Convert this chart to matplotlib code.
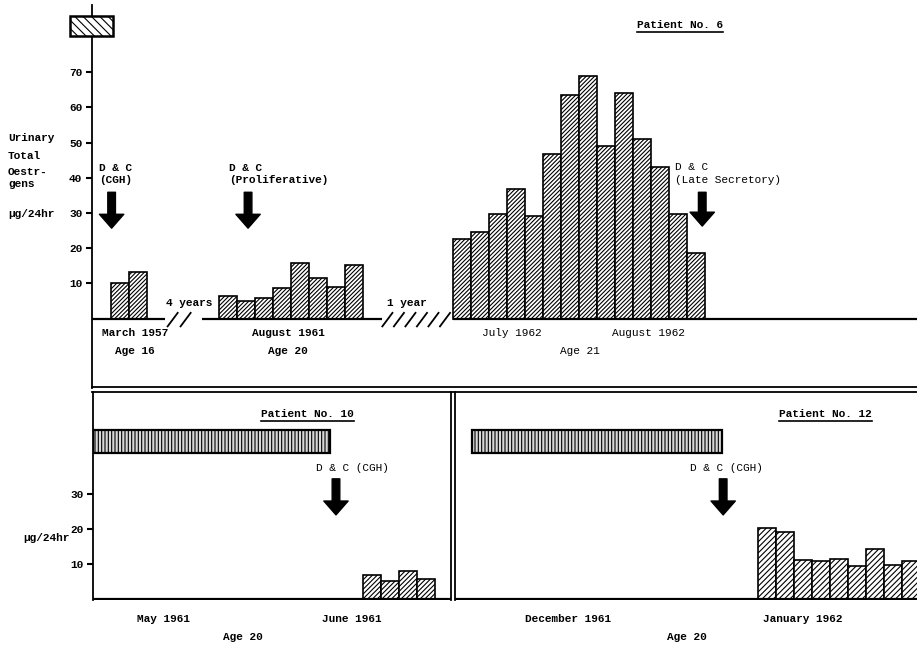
import matplotlib
matplotlib.use("Agg")
import matplotlib.pyplot as plt
from matplotlib.patches import Rectangle
from matplotlib.lines import Line2D

# ---------------- data ----------------
march_1957 = [10.1, 13.2]
aug_1961 = [6.3, 5.1, 5.8, 8.6, 15.9, 11.6, 8.9, 15.2]
jul_aug_1962 = [22.5, 24.6, 29.7, 36.7, 29.2, 46.9, 63.6, 68.9, 49.1, 64.2, 51.1, 43.1, 29.8, 18.7]
p10_jun_1961 = [6.9, 5.0, 8.1, 5.8]
p12_jan_1962 = [20.2, 19.2, 11.2, 10.8, 11.4, 9.3, 14.3, 9.8, 10.8]

top_yticks = [10, 20, 30, 40, 50, 60, 70]
bottom_yticks = [10, 20, 30]

# ---------------- style ----------------
W, H = 917, 646
plt.rcParams['font.family'] = ['Liberation Mono', 'DejaVu Sans Mono']
plt.rcParams['font.weight'] = 'bold'
plt.rcParams['font.size'] = 8
plt.rcParams['hatch.color'] = 'black'
plt.rcParams['hatch.linewidth'] = 0.8

fig = plt.figure(figsize=(W / 100, H / 100), dpi=100)
fig.patch.set_facecolor('white')


def rect(x0, y0, x1, y1):
    return [x0 / W, 1 - y1 / H, (x1 - x0) / W, (y1 - y0) / H]


def fx(x):
    return x / W


def fy(y):
    return 1 - y / H


def style_axis(ax, yticks):
    for s in ['top', 'right', 'bottom']:
        ax.spines[s].set_visible(False)
    ax.spines['left'].set_linewidth(1.3)
    ax.set_xticks([])
    ax.set_yticks(yticks)
    ax.tick_params(axis='y', direction='out', length=4, width=1.5, pad=3, labelsize=8)
    for lab in ax.get_yticklabels():
        lab.set_fontweight('bold')
    ax.patch.set_alpha(0)


def arrow(ax, x, tip, tail):
    ax.annotate('', xy=(x, tip), xytext=(x, tail),
                arrowprops=dict(arrowstyle='simple,head_length=1.0,head_width=1.75,tail_width=0.55',
                                mutation_scale=10, fc='black', ec='black',
                                shrinkA=0, shrinkB=0), annotation_clip=False)


def bars(ax, start, values, hatch):
    xs = [start + i for i in range(len(values))]
    ax.bar(xs, values, width=1.0, align='edge', facecolor='white',
           edgecolor='black', linewidth=1.2, hatch=hatch, zorder=2)


def slashes(ax, x0, n, step, width, y0, y1):
    for i in range(n):
        xa = x0 + i * step
        ax.plot([xa, xa + width], [y0, y1], color='black', lw=1.3,
                clip_on=False, solid_capstyle='butt')


# ---------------- top panel (Patient No. 6) ----------------
ax1 = fig.add_axes(rect(92, 5, 917, 388))
ax1.set_xlim(0, 45.83)
ax1.set_ylim(-19.7, 89.1)
style_axis(ax1, top_yticks)

bars(ax1, 1.05, march_1957, '////////')
bars(ax1, 7.05, aug_1961, '////////')
bars(ax1, 20.07, jul_aug_1962, '////////')

for a, b in [(0.0, 4.06), (6.1, 16.1), (20.05, 45.83)]:
    ax1.plot([a, b], [0, 0], color='black', lw=1.6, solid_capstyle='butt', zorder=3)
slashes(ax1, 4.17, 2, 0.72, 0.62, -2.4, 1.85)
slashes(ax1, 16.1, 6, 0.64, 0.62, -2.4, 1.85)

ax1.text(5.4, 4.4, '4 years', ha='center', va='center')
ax1.text(17.5, 4.4, '1 year', ha='center', va='center')

# hatched box at top
ax1.add_patch(Rectangle((-1.22, 80.3), 2.39, 5.6, facecolor='white', edgecolor='black',
                        lw=1.8, hatch='\\\\\\\\', clip_on=False, zorder=3))

# D & C annotations
ax1.text(0.39, 42.8, 'D & C', ha='left', va='center')
ax1.text(0.39, 39.3, '(CGH)', ha='left', va='center')
arrow(ax1, 1.09, 25.7, 35.9)
ax1.text(7.6, 42.8, 'D & C', ha='left', va='center')
ax1.text(7.6, 39.3, '(Proliferative)', ha='left', va='center')
arrow(ax1, 8.67, 25.7, 35.9)
ax1.text(32.4, 43.1, 'D & C', ha='left', va='center', fontweight='normal')
ax1.text(32.4, 39.4, '(Late Secretory)', ha='left', va='center', fontweight='normal')
arrow(ax1, 33.9, 26.3, 35.9)

t6 = ax1.text(32.67, 83.4, 'Patient No. 6', ha='center', va='center')

ax1.text(2.4, -4.1, 'March 1957', ha='center', va='center')
ax1.text(2.4, -9.2, 'Age 16', ha='center', va='center')
ax1.text(10.9, -4.1, 'August 1961', ha='center', va='center')
ax1.text(10.9, -9.2, 'Age 20', ha='center', va='center')
ax1.text(23.3, -4.1, 'July 1962', ha='center', va='center', fontweight='normal')
ax1.text(30.9, -4.1, 'August 1962', ha='center', va='center', fontweight='normal')
ax1.text(27.1, -9.2, 'Age 21', ha='center', va='center', fontweight='normal')

# y-axis label
for txt, y in [('Urinary', 138), ('Total', 156), ('Oestr-', 172), ('gens', 184), ('\u03bcg/24hr', 214)]:
    fig.text(fx(8), fy(y), txt, ha='left', va='center')

# divider double line
for y in [387, 392]:
    fig.add_artist(Line2D([fx(92), fx(917)], [fy(y), fy(y)], color='black', lw=1.3))

# ---------------- bottom left (Patient No. 10) ----------------
ax2 = fig.add_axes(rect(93, 392, 451, 600))
ax2.set_xlim(0, 19.89)
ax2.set_ylim(-0.3, 59.1)
style_axis(ax2, bottom_yticks)
ax2.spines['right'].set_visible(True)
ax2.spines['right'].set_linewidth(1.3)
ax2.plot([0, 19.89], [0, 0], color='black', lw=1.6, zorder=3)
ax2.add_patch(Rectangle((0, 41.7), 13.17, 6.6, facecolor='#d8d8d8', edgecolor='black',
                        lw=1.6, hatch='|||||', zorder=2))
bars(ax2, 15.0, p10_jun_1961, '///////')
t10 = ax2.text(11.9, 52.9, 'Patient No. 10', ha='center', va='center')
ax2.text(14.4, 37.4, 'D & C (CGH)', ha='center', va='center', fontweight='normal')
arrow(ax2, 13.5, 24.0, 34.3)
ax2.text(3.9, -5.7, 'May 1961', ha='center', va='center')
ax2.text(14.4, -5.7, 'June 1961', ha='center', va='center')
ax2.text(8.3, -10.9, 'Age 20', ha='center', va='center')
fig.text(fx(70), fy(538), '\u03bcg/24hr', ha='right', va='center')

# ---------------- bottom right (Patient No. 12) ----------------
ax3 = fig.add_axes(rect(455, 392, 917, 600))
ax3.set_xlim(0, 25.67)
ax3.set_ylim(-0.3, 59.1)
style_axis(ax3, [])
ax3.tick_params(axis='y', length=0)
ax3.plot([0, 25.67], [0, 0], color='black', lw=1.6, zorder=3)
ax3.add_patch(Rectangle((0.93, 41.7), 13.9, 6.6, facecolor='#d8d8d8', edgecolor='black',
                        lw=1.6, hatch='|||||', zorder=2))
bars(ax3, 16.85, p12_jan_1962, '//////')
t12 = ax3.text(20.6, 52.9, 'Patient No. 12', ha='center', va='center')
ax3.text(15.1, 37.4, 'D & C (CGH)', ha='center', va='center', fontweight='normal')
arrow(ax3, 14.9, 24.0, 34.3)
ax3.text(6.3, -5.7, 'December 1961', ha='center', va='center')
ax3.text(19.3, -5.7, 'January 1962', ha='center', va='center')
ax3.text(12.9, -10.9, 'Age 20', ha='center', va='center')

# underlines for patient titles
fig.canvas.draw()
r = fig.canvas.get_renderer()
for t in [t6, t10, t12]:
    bb = t.get_window_extent(renderer=r)
    yline = bb.y0 - 2
    fig.add_artist(Line2D([bb.x0 / W, bb.x1 / W], [yline / H, yline / H], color='black', lw=1.2))

fig.savefig('out.png', dpi=100, facecolor='white')
